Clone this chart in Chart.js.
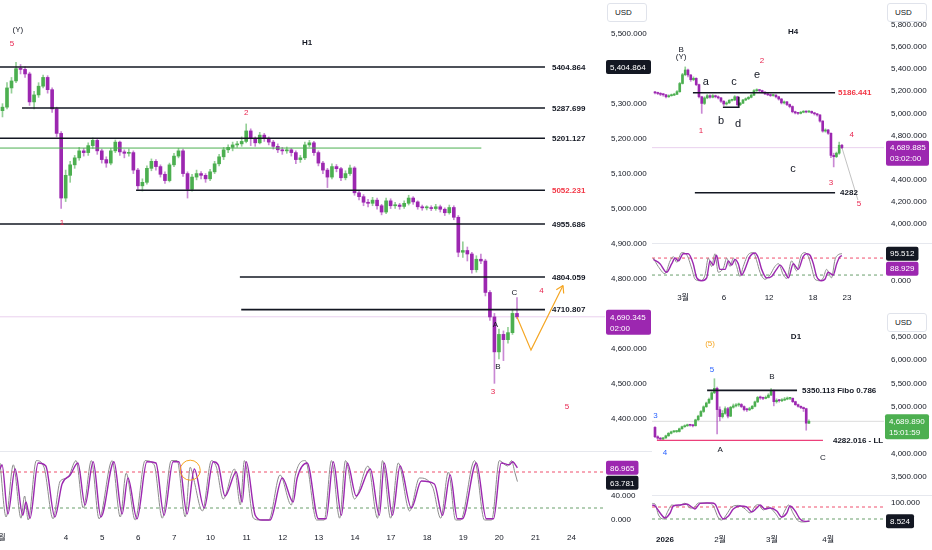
<!DOCTYPE html>
<html><head><meta charset="utf-8">
<script src="https://cdn.jsdelivr.net/npm/chart.js@4.4.1/dist/chart.umd.min.js"></script>
<style>
html,body{margin:0;padding:0;background:#fff;}
body{width:932px;height:550px;position:relative;overflow:hidden;}
canvas{position:absolute;}
.usd{position:absolute;box-sizing:border-box;width:40px;height:19px;border:1px solid #e0e3eb;border-radius:3px;background:#fff;font:8px 'Liberation Sans',Arial,sans-serif;color:#131722;line-height:17px;padding-left:7px;}
.sep{position:absolute;background:#e6e8ee;}
</style></head>
<body>
<canvas id="h1p" width="652" height="451" style="left:0px;top:0px"></canvas>
<canvas id="h1o" width="652" height="99" style="left:0px;top:451px"></canvas>
<canvas id="h4p" width="280" height="243" style="left:652px;top:0px"></canvas>
<canvas id="h4o" width="280" height="63" style="left:652px;top:243px"></canvas>
<canvas id="d1p" width="280" height="189" style="left:652px;top:306px"></canvas>
<canvas id="d1o" width="280" height="55" style="left:652px;top:495px"></canvas>
<div class="sep" style="left:0;top:451px;width:652px;height:1px"></div>
<div class="sep" style="left:652px;top:243px;width:280px;height:1px"></div>
<div class="sep" style="left:652px;top:495px;width:280px;height:1px"></div>
<div class="usd" style="left:607px;top:3px">USD</div>
<div class="usd" style="left:887px;top:3px">USD</div>
<div class="usd" style="left:887px;top:313px">USD</div>
<script>
// ================= H1 =================
const h1FirstOpen = 5280;
const h1Close = [
5290,5345,5365,5400,5398,5385,5305,5325,5350,5375,
5340,5285,5215,5030,5095,5125,5145,5165,5160,5180,
5195,5165,5140,5130,5165,5190,5162,5158,5160,5110,
5065,5075,5115,5135,5120,5098,5080,5125,5150,5165,
5100,5055,5090,5100,5095,5085,5105,5128,5148,5168,
5175,5182,5185,5192,5222,5200,5188,5210,5200,5190,
5178,5168,5165,5168,5160,5140,5145,5182,5188,5160,
5130,5110,5090,5120,5114,5088,5100,5116,5045,5034,
5018,5015,5024,5008,4990,5022,5008,5010,5006,5015,
5030,5019,5005,5002,5002,5000,5005,4998,4988,5003,
4975,4875,4880,4870,4825,4855,4850,4760,4690,4590,
4640,4625,4645,4700,4690];
const h1High = [
5300,5360,5375,5418,5412,5405,5390,5335,5360,5382,
5380,5345,5290,5220,5110,5135,5152,5175,5172,5188,
5202,5198,5170,5148,5172,5196,5193,5168,5170,5165,
5115,5085,5122,5142,5140,5125,5105,5130,5158,5172,
5170,5105,5098,5110,5106,5100,5112,5135,5155,5175,
5182,5190,5192,5205,5242,5228,5205,5218,5215,5205,
5195,5185,5175,5176,5172,5165,5152,5190,5195,5192,
5165,5135,5115,5128,5126,5118,5108,5124,5120,5052,
5040,5026,5032,5030,5012,5030,5028,5018,5015,5022,
5038,5034,5022,5010,5008,5008,5012,5010,5002,5010,
5008,4980,4905,4890,4875,4865,4870,4855,4765,4700,
4655,4650,4660,4712,4745];
const h1Low = [
5262,5285,5330,5360,5385,5375,5295,5285,5318,5345,
5330,5275,5205,5000,5020,5075,5115,5138,5150,5152,
5172,5155,5130,5118,5125,5160,5152,5145,5150,5100,
5055,5050,5070,5108,5110,5090,5072,5076,5120,5145,
5092,5030,5050,5082,5085,5075,5080,5100,5122,5140,
5160,5165,5175,5178,5188,5180,5178,5185,5192,5182,
5170,5160,5155,5158,5150,5128,5132,5140,5176,5152,
5122,5100,5060,5085,5105,5080,5082,5095,5038,5025,
5008,5005,5008,4998,4982,4985,5000,5000,4998,5000,
5010,5012,4998,4995,4996,4994,4995,4990,4980,4984,
4968,4862,4860,4850,4815,4818,4842,4750,4680,4500,
4570,4565,4615,4640,4685];
const h1OscK = [[-0.55,85],[-0.1,92],[1.2,10],[2.8,85],[4.5,8],[5.2,30],[6.1,3],[7.9,95],[9.6,90],[11.6,5],[13.2,60],[15,75],[16.7,95],[18.3,25],[20.1,97],[21.8,5],[24.7,97],[26.5,10],[27.8,70],[29.8,2],[32,97],[34,95],[35.8,8],[37.8,97],[39.1,97],[40.9,10],[42.5,85],[44.7,20],[46.7,97],[47.8,92],[49.3,40],[51.8,80],[53.1,30],[54,97],[56,8],[57.5,0],[59.3,0],[62,70],[64.4,30],[65.3,70],[67.5,95],[70,2],[71.7,2],[73.3,97],[75.1,8],[76.4,95],[78.4,40],[81.5,85],[83.5,8],[84.6,95],[86.4,8],[88.1,90],[90.6,20],[92.8,65],[95.7,60],[97.5,8],[99.2,75],[100.8,2],[101.9,2],[105,95],[107.2,2],[108.8,2],[110.5,95],[112.3,92],[113,97],[114.1,87]];
const h1OscD = [[-0.55,95],[0.8,5],[2.4,92],[4.1,3],[4.9,40],[5.7,0],[7.5,99],[9.2,88],[11.2,2],[12.8,65],[14.4,70],[16.3,99],[17.9,20],[19.7,99],[21.4,2],[24.3,99],[26.1,5],[27.4,78],[29.4,0],[31.6,99],[33.6,92],[35.4,3],[37.4,99],[38.7,99],[40.5,5],[41.6,88],[42.3,70],[44.3,15],[46.3,99],[47.4,88],[48.9,35],[51.4,85],[52.7,25],[53.6,99],[55.6,3],[57,0],[59,0],[61.5,75],[64,25],[64.9,75],[67.1,99],[69.6,0],[71.3,0],[72.9,99],[74.7,3],[76,99],[78,35],[81,90],[83.1,3],[84.2,99],[86,3],[87.7,95],[90.2,15],[92.4,70],[95.3,55],[97.1,3],[98.8,80],[100.4,0],[101.5,0],[104.6,99],[106.8,0],[108.4,0],[110.1,99],[111.9,90],[112.8,99],[113.5,80],[114.1,64]];
const h1PriceTicks = [4400,4500,4600,4700,4800,4900,5000,5100,5200,5300,5400,5500];
const h1OscTicks = [0,40];
const h1DayTicks = [[-0.6,'3월'],[14.08,'4'],[22.08,'5'],[30.08,'6'],[38.08,'7'],[46.08,'10'],[54.08,'11'],[62.08,'12'],[70.08,'13'],[78.08,'14'],[86.08,'17'],[94.08,'18'],[102.08,'19'],[110.08,'20'],[118.08,'21'],[126.08,'24']];
const h1Levels = [
 {v:5404.864,from:-0.55,to:120.2,label:'5404.864'},
 {v:5287.699,from:4.33,to:120.2,label:'5287.699'},
 {v:5201.127,from:-0.55,to:120.2,label:'5201.127'},
 {v:5173,from:-0.55,to:106.1,kind:'green'},
 {v:5052.231,from:29.6,to:120.2,label:'5052.231',lc:'red'},
 {v:4955.686,from:-0.55,to:120.2,label:'4955.686'},
 {v:4804.059,from:52.6,to:120.2,label:'4804.059'},
 {v:4710.807,from:52.9,to:120.2,label:'4710.807'},
 {v:4690.345,from:-0.55,to:133.5,kind:'price'}];
const h1Projection = [[114,4690],[117.1,4595],[124.2,4780]];
const h1Texts = [[3.4,5510.7,'(Y)','blk'],[2.1,5470.6,'5','red'],[67.5,5473.5,'H1','bold'],[54,5273.3,'2','red'],[13.2,4958.6,'1','red'],[113.4,4758.4,'C','blk'],[119.4,4764.1,'4','red'],[109.2,4666.9,'A','blk'],[109.8,4546.8,'B','blk'],[108.7,4475.2,'3','red'],[125.1,4432.3,'5','red']];
const h1Tags = [[5404.864,'5,404.864','','black'],[4690.345,'4,690.345','02:00','purple']];
const h1OscTags = [[86.965,'86.965','','purple'],[63.781,'63.781','','black']];
const h1OscCircle = [[41.6,83,10]];

// ================= H4 =================
const h4FirstOpen = 5190;
const h4Close = [
5185,5180,5172,5168,5150,5160,5165,5172,5196,5270,
5350,5392,5347,5305,5317,5260,5150,5090,5140,5160,
5146,5160,5150,5140,5110,5085,5095,5118,5121,5150,
5078,5092,5121,5132,5145,5165,5205,5210,5206,5192,
5176,5168,5161,5165,5150,5130,5095,5104,5080,5062,
5015,5004,5000,5010,5016,5012,5018,5005,4996,4986,
4930,4840,4850,4820,4620,4609,4640,4712,4690];
const h4High = [
5200,5192,5188,5180,5172,5168,5175,5182,5205,5280,
5362,5420,5400,5352,5330,5322,5265,5155,5150,5170,
5168,5170,5165,5158,5145,5115,5105,5125,5130,5160,
5155,5100,5128,5140,5152,5175,5215,5222,5215,5210,
5198,5182,5175,5172,5170,5155,5135,5112,5108,5085,
5068,5020,5010,5018,5025,5022,5025,5022,5010,5000,
4990,4935,4860,4855,4825,4640,4650,4740,4720];
const h4Low = [
5175,5170,5160,5155,5140,5145,5155,5160,5168,5190,
5265,5340,5330,5290,5295,5250,5140,5000,5080,5132,
5138,5140,5140,5130,5100,5070,5075,5090,5110,5115,
5065,5070,5088,5115,5125,5140,5160,5198,5195,5185,
5168,5160,5152,5155,5140,5120,5085,5085,5070,5050,
5005,4995,4990,4995,5005,5005,5008,4998,4985,4975,
4920,4830,4830,4810,4600,4516,4600,4630,4680];
const h4OscK = [[-0.6,75],[1.8,60],[4.2,30],[6.1,60],[7.3,80],[8.5,70],[10.3,95],[12.1,95],[13.9,60],[15.2,10],[17,0],[18.8,10],[20,70],[21.2,55],[22.4,90],[23.6,40],[25.5,40],[26.7,70],[27.9,55],[29.1,75],[30.3,60],[31.5,20],[32.7,40],[34.5,85],[36.4,98],[37.6,80],[38.8,40],[40.6,10],[42.4,15],[44.2,40],[45.5,55],[47.3,30],[48.5,10],[50.3,60],[52.1,40],[53.9,85],[55.2,95],[56.4,90],[57.6,60],[58.8,15],[60.6,0],[61.8,5],[63,30],[64.8,20],[66.1,60],[67.3,85],[68,88.9]];
const h4OscD = [[-0.6,80],[1.2,50],[3.6,25],[5.5,70],[6.7,85],[7.9,65],[9.7,99],[11.5,92],[13.3,45],[14.6,5],[16.4,0],[18.2,20],[19.4,80],[20.6,50],[21.8,95],[23,30],[24.9,45],[26.1,80],[27.3,50],[28.5,80],[29.7,50],[30.9,15],[32.1,50],[33.9,92],[35.8,99],[37,70],[38.2,30],[40,5],[41.8,20],[43.6,50],[44.9,60],[46.7,20],[47.9,8],[49.7,70],[51.5,35],[53.3,92],[54.6,99],[55.8,85],[57,45],[58.2,5],[60,0],[61.2,10],[62.4,40],[64.2,10],[65.5,75],[66.7,92],[68,95.5]];
const h4PriceTicks = [4000,4200,4400,4600,4800,5000,5200,5400,5600,5800];
const h4OscTicks = [0];
const h4DayTicks = [[10.2,'3월'],[25.1,'6'],[41.5,'12'],[57.5,'18'],[69.8,'23']];
const h4Levels = [
 {v:5186.441,from:13.8,to:65.5,label:'5186.441',lc:'red',gap:3},
 {v:4282,from:14.5,to:65.5,label:'4282',gap:5},
 {v:4689.885,from:-1.09,to:83.3,kind:'price'}];
const h4BoxLine = [[24.7,5055],[30.5,5055],[30.5,5150]];
const h4Projection = [[68,4690],[73.8,4217]];
const h4Texts = [[50.2,5736,'H4','bold'],[9.5,5573,'B','blk'],[9.5,5510,'(Y)','blk'],[38.9,5474,'2','red'],[18.5,5284,'a','big'],[28.7,5284,'c','big'],[37.1,5347,'e','big'],[16.7,4841,'1','red'],[24,4931,'b','big'],[30.2,4904,'d','big'],[50.2,4497,'c','big'],[71.6,4805,'4','red'],[64,4371,'3','red'],[74.2,4181,'5','red']];
const h4Tags = [[4689.885,'4,689.885','03:02:00','purple']];
const h4OscTags = [[95.512,'95.512','','black'],[88.929,'88.929','','purple']];

// ================= D1 =================
const d1FirstOpen = 4560;
const d1Close = [
4360,4330,4310,4335,4380,4434,4465,4470,4472,4530,
4575,4595,4610,4605,4595,4720,4800,4900,5000,5080,
5160,5300,5395,4940,4790,4860,4960,4800,4990,5020,
5040,5050,5005,4940,4935,4960,5010,5105,5200,5190,
5180,5200,5250,5345,5110,5140,5130,5145,5165,5180,
5182,5110,5045,5010,4985,4960,4650,4690];
const d1High = [
4580,4380,4345,4350,4395,4450,4480,4490,4495,4545,
4590,4615,4630,4625,4620,4735,4820,4920,5020,5100,
5185,5320,5600,5420,5000,4920,5000,4990,5010,5060,
5070,5080,5070,5020,4970,4990,5030,5120,5220,5230,
5210,5230,5280,5390,5360,5170,5160,5175,5200,5210,
5205,5190,5120,5060,5020,4995,4970,4720];
const d1Low = [
4340,4300,4282,4295,4325,4370,4420,4450,4450,4460,
4520,4560,4580,4585,4570,4590,4710,4790,4880,4990,
5070,5150,5280,4420,4700,4760,4840,4760,4790,4970,
5000,5010,4980,4910,4900,4920,4950,5000,5090,5160,
5150,5170,5190,5240,5020,5080,5100,5110,5130,5150,
5150,5090,5030,4990,4960,4900,4500,4640];
const d1OscK = [[-1,90],[0,85],[1.9,50],[3.7,25],[5.6,50],[6.8,85],[9.3,90],[11.7,95],[13.6,80],[14.8,70],[16.7,98],[19.1,100],[21,100],[22.2,95],[24.1,40],[25.3,20],[27.2,35],[29,70],[31.5,85],[34,80],[35.8,55],[37.7,75],[38.9,90],[40.7,70],[42.6,75],[45.1,60],[46.9,30],[48.8,50],[50,85],[51.9,60],[53.7,20],[55.6,8],[57.2,10]];
const d1OscD = [[-1,98],[0,95],[1.3,40],[3.1,20],[5,65],[6.2,90],[8.7,85],[11.1,99],[13,75],[14.2,75],[16.1,100],[18.5,100],[20.4,98],[21.6,85],[23.5,25],[24.7,15],[26.6,45],[28.4,80],[30.9,88],[33.4,70],[35.2,50],[37.1,85],[38.3,92],[40.1,65],[42,80],[44.5,50],[46.3,20],[48.2,65],[49.4,90],[51.3,45],[53.1,10],[55,5],[57.2,8.5]];
const d1PriceTicks = [3500,4000,4500,5000,5500,6000,6500];
const d1OscTicks = [100];
const d1DayTicks = [[3.7,'2026'],[24.1,'2월'],[43.3,'3월'],[64.1,'4월']];
const d1Levels = [
 {v:5350.113,from:19.3,to:52.6,label:'5350.113 Fibo 0.786',gap:5},
 {v:4282.016,from:0.7,to:62.2,label:'4282.016 - LL',gap:10,kind:'pink'},
 {v:4689.89,from:-1.11,to:84.8,kind:'pricegray'}];
const d1Texts = [[52.2,6491,'D1','bold'],[20.4,6342,'(5)','orange'],[21.1,5786,'5','blue'],[43.3,5637,'B','blk'],[0.2,4803,'3','blue'],[3.7,4013,'4','blue'],[24.1,4077,'A','blk'],[62.2,3906,'C','blk']];
const d1Tags = [[4689.89,'4,689.890','15:01:59','green']];
const d1OscTags = [[8.524,'8.524','','black']];

// ================= rendering =================
const FONT = "'Liberation Sans','Noto Sans CJK KR',Arial,sans-serif";
const COL = {red:'#e8254f', blk:'#131722', blue:'#2962ff', orange:'#f5a623'};
const TAGBG = {black:'#131722', purple:'#9c27b0', green:'#4caf50'};
const fmt3 = v => v.toLocaleString('en-US',{minimumFractionDigits:3,maximumFractionDigits:3});

function lineDs(pts, color, width, extra){
  return Object.assign({type:'line', data:pts.map(p=>({x:p[0],y:p[1]})), borderColor:color,
    borderWidth:width, pointRadius:0, fill:false, tension:0, order:1}, extra||{});
}
function candleDatasets(close, high, low, firstOpen, bodyW){
  const wick=[], body=[], wc=[], bc=[];
  let o = firstOpen;
  close.forEach((c,i)=>{
    const up = c >= o;
    wick.push({x:i, y:[low[i], high[i]]});
    body.push({x:i, y:[o, c]});
    wc.push(up ? 'rgba(76,175,80,0.6)' : 'rgba(156,39,176,0.55)');
    bc.push(up ? '#4caf50' : '#9c27b0');
    o = c;
  });
  return [
    {type:'bar', data:wick, backgroundColor:wc, barThickness:1, grouped:false, order:5, borderWidth:0},
    {type:'bar', data:body, backgroundColor:bc, barThickness:bodyW, grouped:false, order:4, borderWidth:0, minBarLength:1}
  ];
}
function levelDatasets(levels){
  const st = {blk:['#131722',1.6], green:['#4caf50',1], price:['rgba(156,39,176,0.22)',1], pricegray:['#dcdcdc',1], pink:['#ec407a',1.3]};
  return levels.map(l=>{
    const s = st[l.kind||'blk'];
    return lineDs([[l.from,l.v],[l.to,l.v]], s[0], s[1], {order:(l.kind==='price'||l.kind==='pricegray')?6:3});
  });
}
function oscDatasets(k, d, xmin, xmax){
  return [
    lineDs(k, '#9c27b0', 1.4, {order:1, cubicInterpolationMode:'monotone'}),
    lineDs(d, '#8c8c8c', 1, {order:2, cubicInterpolationMode:'monotone'}),
    lineDs([[xmin,80],[xmax,80]], '#f0506e', 1, {order:3, borderDash:[3,3]}),
    lineDs([[xmin,20],[xmax,20]], '#6a9f6d', 1, {order:3, borderDash:[3,3]})
  ];
}
function makeAnnot(a){
  return {id:'annot', afterDraw(chart){
    const ctx=chart.ctx, xs=chart.scales.x, ys=chart.scales.y, ca=chart.chartArea;
    const X=v=>xs.getPixelForValue(v), Y=v=>ys.getPixelForValue(v);
    ctx.save();
    ctx.textBaseline='middle';
    (a.levels||[]).forEach(l=>{
      if(!l.label) return;
      ctx.font='bold 8px '+FONT;
      ctx.fillStyle = l.lc==='red' ? '#f23645' : '#131722';
      ctx.textAlign='left';
      ctx.fillText(l.label, X(l.to)+(l.gap!==undefined?l.gap:7), Y(l.v)+0.5);
    });
    (a.texts||[]).forEach(t=>{
      const k=t[3];
      ctx.font=(k==='bold'?'bold 8px ':k==='big'?'11px ':'8px ')+FONT;
      ctx.fillStyle = k==='red'?COL.red : k==='blue'?COL.blue : k==='orange'?COL.orange : COL.blk;
      ctx.textAlign='center';
      ctx.fillText(t[2], X(t[0]), Y(t[1]));
    });
    (a.circles||[]).forEach(c=>{
      ctx.beginPath(); ctx.arc(X(c[0]), Y(c[1]), c[2], 0, Math.PI*2);
      ctx.strokeStyle=COL.orange; ctx.lineWidth=1; ctx.stroke();
    });
    if(a.arrow){
      const p=a.arrow, n=p.length;
      const x1=X(p[n-2][0]), y1=Y(p[n-2][1]), x2=X(p[n-1][0]), y2=Y(p[n-1][1]);
      const ang=Math.atan2(y2-y1, x2-x1);
      ctx.strokeStyle=COL.orange; ctx.lineWidth=1.2; ctx.beginPath();
      [ang+2.6, ang-2.6].forEach(b=>{ ctx.moveTo(x2,y2); ctx.lineTo(x2+8*Math.cos(b), y2+8*Math.sin(b)); });
      ctx.stroke();
    }
    let lastB=-1e9;
    (a.tags||[]).forEach(t=>{
      const lines = t[2] ? [t[1], t[2]] : [t[1]];
      ctx.font='8px '+FONT;
      const w = a.tagW || (Math.max(...lines.map(s=>ctx.measureText(s).width)) + 8);
      const h = lines.length*11 + 3;
      let top = Y(t[0]) - 7;
      if(top < lastB) top = lastB + 1;
      const left = ca.right + (a.tagDx||1);
      ctx.fillStyle = TAGBG[t[3]];
      ctx.beginPath();
      if(ctx.roundRect) ctx.roundRect(left, top, w, h, 2); else ctx.rect(left, top, w, h);
      ctx.fill();
      ctx.fillStyle='#ffffff'; ctx.textAlign='left';
      lines.forEach((s,k)=>ctx.fillText(s, left+4, top+7.5+k*11));
      lastB = top + h;
    });
    ctx.restore();
  }};
}
function xScale(min, max, ticks, h, show){
  const map = new Map((ticks||[]).map(t=>[t[0], t[1]]));
  return {type:'linear', min, max, offset:false, display:!!show,
    grid:{display:false, drawTicks:false}, border:{display:false},
    afterBuildTicks:s=>{ s.ticks=(ticks||[]).map(t=>({value:t[0]})); },
    afterFit:s=>{ s.height=h||0; s.paddingLeft=0; s.paddingRight=0; },
    ticks:{autoSkip:false, maxRotation:0, minRotation:0, padding:5, color:'#131722',
      font:c=>({size:8, family:FONT, weight:(c.tick && c.tick.label==='2026')?'bold':'normal'}),
      callback:v=>map.get(v)}};
}
function yScale(min, max, ticks, w, pad){
  return {type:'linear', position:'right', min, max,
    grid:{display:false, drawTicks:false}, border:{display:false},
    afterBuildTicks:s=>{ s.ticks=ticks.map(v=>({value:v})); },
    afterFit:s=>{ s.width=w; s.paddingTop=0; s.paddingBottom=0; },
    ticks:{autoSkip:false, padding:pad, color:'#131722', font:{size:8, family:FONT}, callback:v=>fmt3(v)}};
}
function mk(id, c){
  return new Chart(document.getElementById(id), {
    type:'bar',
    data:{datasets:c.datasets},
    options:{responsive:false, animation:false, events:[], layout:{padding:0},
      plugins:{legend:{display:false}, tooltip:{enabled:false}},
      scales:{x:c.x, y:c.y}},
    plugins:[makeAnnot(c.annot||{})]
  });
}

// right-hand panels: plot area 652..884 (232px)
const H4X = [-1.09, 83.3];
const D1X = [-1.11, 84.8];

// H1 price
mk('h1p', {
  datasets:[...candleDatasets(h1Close,h1High,h1Low,h1FirstOpen,3), ...levelDatasets(h1Levels),
    lineDs(h1Projection, COL.orange, 1.2, {order:0})],
  x:xScale(-0.55, 133.5, null, 0, false),
  y:yScale(4306.5, 5596.5, h1PriceTicks, 47, 6),
  annot:{levels:h1Levels, texts:h1Texts, arrow:h1Projection, tags:h1Tags, tagDx:1, tagW:45}
});
// H1 oscillator
mk('h1o', {
  datasets:oscDatasets(h1OscK, h1OscD, -0.55, 133.5),
  x:xScale(-0.55, 133.5, h1DayTicks, 22, true),
  y:yScale(-13.33, 115, h1OscTicks, 47, 6),
  annot:{circles:h1OscCircle, tags:h1OscTags, tagDx:1}
});
// H4 price
mk('h4p', {
  datasets:[...candleDatasets(h4Close,h4High,h4Low,h4FirstOpen,2), ...levelDatasets(h4Levels),
    lineDs(h4BoxLine, '#131722', 1.5, {order:3}), lineDs(h4Projection, 'rgba(120,120,120,0.45)', 1, {order:3})],
  x:xScale(H4X[0], H4X[1], null, 0, false),
  y:yScale(3828, 6025, h4PriceTicks, 48, 7),
  annot:{levels:h4Levels, texts:h4Texts, tags:h4Tags, tagDx:2, tagW:43}
});
// H4 oscillator
mk('h4o', {
  datasets:oscDatasets(h4OscK, h4OscD, H4X[0], H4X[1]),
  x:xScale(H4X[0], H4X[1], h4DayTicks, 18, true),
  y:yScale(-25.8, 133.2, h4OscTicks, 48, 7),
  annot:{tags:h4OscTags, tagDx:2}
});
// D1 price
mk('d1p', {
  datasets:[...candleDatasets(d1Close,d1High,d1Low,d1FirstOpen,2), ...levelDatasets(d1Levels)],
  x:xScale(D1X[0], D1X[1], null, 0, false),
  y:yScale(3115.4, 7153.8, d1PriceTicks, 48, 7),
  annot:{levels:d1Levels, texts:d1Texts, tags:d1Tags, tagDx:1, tagW:44}
});
// D1 oscillator
mk('d1o', {
  datasets:oscDatasets(d1OscK, d1OscD, D1X[0], D1X[1]),
  x:xScale(D1X[0], D1X[1], d1DayTicks, 20, true),
  y:yScale(-35, 140, d1OscTicks, 48, 7),
  annot:{tags:d1OscTags, tagDx:2}
});
</script>
</body></html>
